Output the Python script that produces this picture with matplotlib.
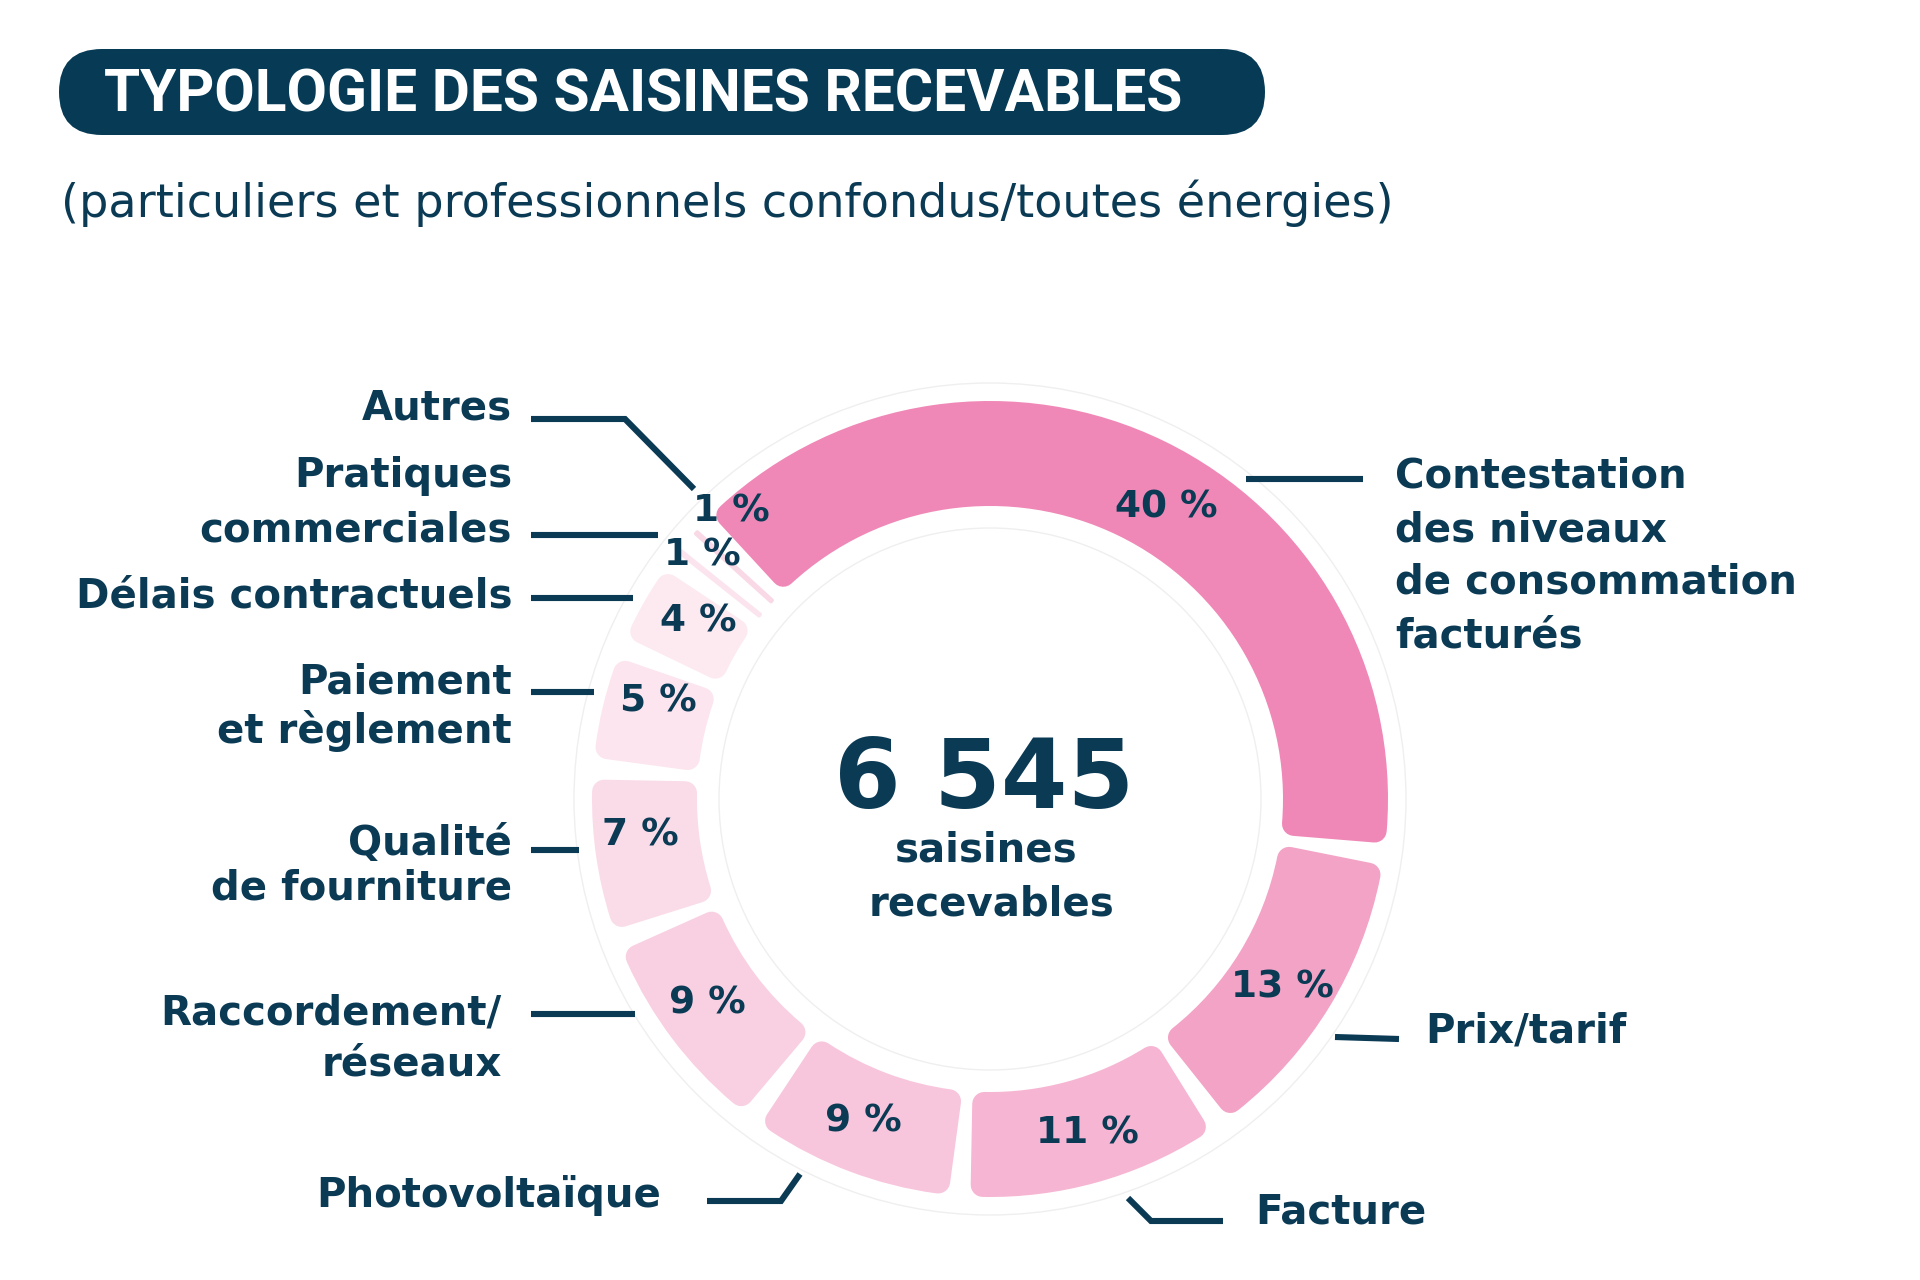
import numpy as np
import matplotlib
matplotlib.use("Agg")
import matplotlib.pyplot as plt
from matplotlib.patches import FancyBboxPatch, Circle

# ================= DATA =================

CATEGORIES = [
    "Contestation\ndes niveaux\nde consommation\nfacturés",
    "Prix/tarif",
    "Facture",
    "Photovoltaïque",
    "Raccordement/\nréseaux",
    "Qualité\nde fourniture",
    "Paiement\net règlement",
    "Délais contractuels",
    "Pratiques\ncommerciales",
    "Autres",
]
SHARES = [40, 13, 11, 9, 9, 7, 5, 4, 1, 1]
COLORS = ["#f088b7", "#f3a3c6", "#f6b5d2", "#f8c6dc", "#f9d0e2",
          "#fadce8", "#fce5ee", "#fdeaf1", "#fbe4ed", "#fad9e6"]
TOTAL = 6545
TITLE = "TYPOLOGIE DES SAISINES RECEVABLES"
SUBTITLE = "(particuliers et professionnels confondus/toutes énergies)"
CENTER_TEXT = ["saisines", "recevables"]

# ================= LAYOUT (pixels, y from top) =================

W, H = 1920, 1280
NAVY = "#0b3a55"
BANNER = "#063a55"
CX, CY = 990, 799
R_OUT, R_IN = 398, 293
GAP = 16
LABEL_FS = 29

# label: x, first baseline, alignment, line step
LABEL_LAYOUT = [
    (1395, 488, "left", 53),
    (1425, 1042, "left", 0),
    (1255, 1223, "left", 0),
    (661, 1207, "right", 0),
    (502, 1025, "right", 51),
    (512, 855, "right", 45),
    (512, 693, "right", 50),
    (512, 607, "right", 0),
    (512, 487, "right", 54),
    (512, 419, "right", 0),
]
LEADERS = [
    [(1246, 479), (1363, 479)],
    [(1335, 1037), (1399, 1039)],
    [(1128, 1198), (1151, 1221), (1223, 1221)],
    [(707, 1201), (781, 1201), (800, 1174)],
    [(531, 1014), (635, 1014)],
    [(531, 850), (579, 850)],
    [(531, 692), (594, 692)],
    [(531, 598), (633, 598)],
    [(531, 535), (658, 535)],
    [(531, 419), (625, 419), (694, 489)],
]
PCT_POS = [(1166, 508), (1282, 988), (1087, 1133), (863, 1122), (707, 1004),
           (640, 836), (658, 702), (698, 621), (702, 555), (731, 512)]


def Y(y):
    return H - y


fig = plt.figure(figsize=(W / 100, H / 100), dpi=100)
fig.patch.set_facecolor("white")
ax = fig.add_axes([0, 0, 1, 1])

# ================= DONUT =================

wedges, _ = ax.pie(SHARES, colors=COLORS, startangle=136, counterclock=False,
                   radius=R_OUT, center=(CX, Y(CY)),
                   wedgeprops=dict(width=R_OUT - R_IN, linewidth=0))

# shrink each slice and stroke it in its own colour -> gaps + rounded corners
r_mid = (R_OUT + R_IN) / 2
for w in wedges:
    span = np.deg2rad(w.theta2 - w.theta1) * r_mid
    rnd = min(24, max(2, span - GAP - 2))
    d = np.rad2deg((GAP / 2 + rnd / 2) / r_mid)
    t1, t2 = w.theta1 + d, w.theta2 - d
    w.set_theta1(t1)
    w.set_theta2(t2)
    w.set_radius(R_OUT - rnd / 2)
    w.set_width(R_OUT - R_IN - rnd)
    w.set_edgecolor(w.get_facecolor())
    w.set_linewidth(rnd * 0.72)
    w.set_joinstyle("round")

# faint halo outlines
for r in (R_OUT + 18, R_IN - 22):
    ax.add_patch(Circle((CX, Y(CY)), r, fill=False, ec="#efefef", lw=1, zorder=0))

ax.set_xlim(0, W)
ax.set_ylim(0, H)
ax.set_aspect("equal")
ax.axis("off")

# ================= PERCENT LABELS =================

for v, (px, py) in zip(SHARES, PCT_POS):
    ax.text(px, Y(py), f"{v} %", ha="center", va="center", fontsize=27,
            fontweight="bold", color=NAVY, family="DejaVu Sans")

# ================= CATEGORY LABELS + LEADERS =================

for name, (lx, ly, ha, step), pts in zip(CATEGORIES, LABEL_LAYOUT, LEADERS):
    for i, line in enumerate(name.split("\n")):
        ax.text(lx, Y(ly + i * step), line, ha=ha, va="baseline",
                fontsize=LABEL_FS, fontweight="bold", color=NAVY,
                family="DejaVu Sans")
    xs = [p[0] for p in pts]
    ys = [Y(p[1]) for p in pts]
    ax.plot(xs, ys, color=NAVY, lw=4.4, solid_capstyle="butt",
            solid_joinstyle="miter")

# ================= CENTER =================

ax.text(984, Y(808), f"{TOTAL:,}".replace(",", " "), ha="center", va="baseline",
        fontsize=69, fontweight="bold", color=NAVY, family="DejaVu Sans")
ax.text(986, Y(861), CENTER_TEXT[0], ha="center", va="baseline",
        fontsize=LABEL_FS, color=NAVY, fontweight="bold", family="DejaVu Sans")
ax.text(992, Y(915), CENTER_TEXT[1], ha="center", va="baseline",
        fontsize=LABEL_FS, color=NAVY, fontweight="bold", family="DejaVu Sans")

# ================= TITLE BANNER =================

ax.add_patch(FancyBboxPatch((59, Y(135)), 1206, 86,
                            boxstyle="round,pad=0,rounding_size=43",
                            fc=BANNER, ec="none"))
t_title = ax.text(104, Y(112), TITLE, ha="left", va="baseline", fontsize=38,
                  fontweight="bold", color="white",
                  family=["Roboto", "DejaVu Sans"])
t_sub = ax.text(61, Y(217), SUBTITLE, ha="left", va="baseline", fontsize=28,
                fontweight="normal", color=NAVY, family="DejaVu Sans")

# fit title / subtitle widths to the reference
renderer = fig.canvas.get_renderer()
for t, target in ((t_title, 1078), (t_sub, 1332)):
    bb = t.get_window_extent(renderer)
    t.set_fontsize(t.get_fontsize() * target / bb.width)

fig.savefig("out.png", dpi=100, facecolor="white")
